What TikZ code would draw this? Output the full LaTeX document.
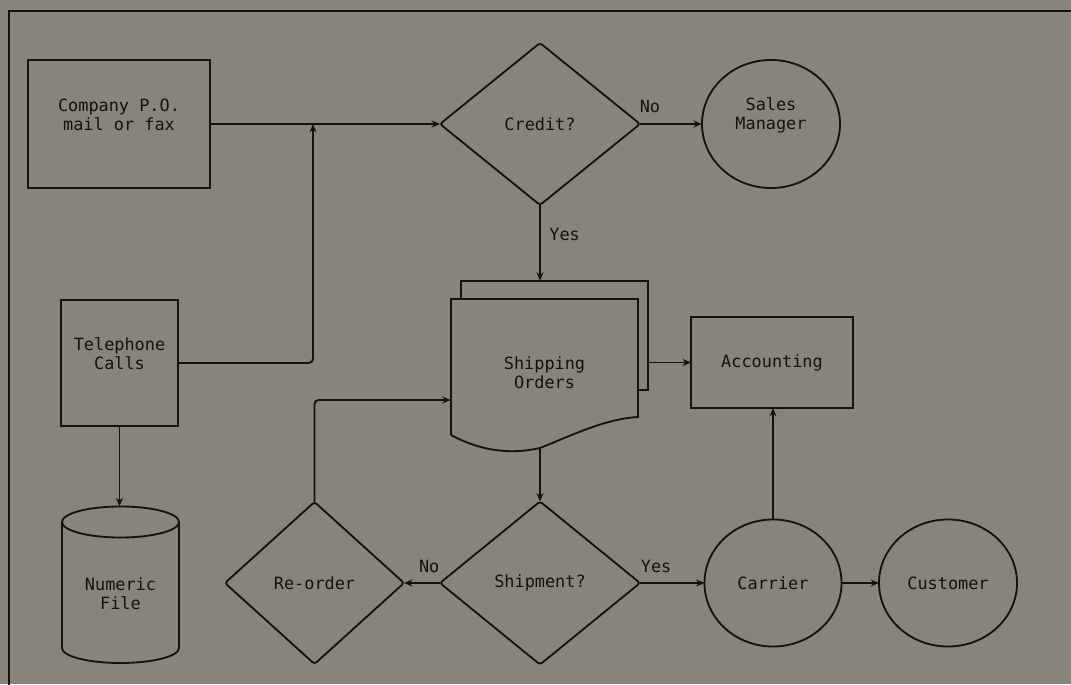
\documentclass[tikz,border=0pt]{standalone}
\usepackage{fontspec}
\setmonofont{DejaVu Sans Mono}
\usetikzlibrary{shapes.geometric,arrows.meta}
\definecolor{paper}{RGB}{137,132,121}
\definecolor{ink}{RGB}{20,18,16}
\begin{document}
\begin{tikzpicture}[x=0.025cm, y=0.025cm,
    every node/.style={font=\ttfamily\fontsize{12}{13.5}\selectfont, text=ink, align=center},
    line/.style={line width=1.3pt, draw=ink},
    arr/.style={line, -{Stealth[length=6pt, width=5pt]}},
    box/.style={line, rectangle, inner sep=0pt, outer sep=0pt},
    choice/.style={line, diamond, inner sep=0pt, outer sep=0pt, rounded corners=2pt},
    bubble/.style={line, ellipse, inner sep=0pt, outer sep=0pt},
    lift/.style={yshift=0.225cm},
    tag/.style={inner sep=1pt}]
    % Paper and frame
    \useasboundingbox[fill=paper] (0,0) rectangle (1071,684);
    \draw[line] (9,-10) -- (9,673) -- (1080,673);

    % Inputs
    \node[box, minimum width=4.55cm, minimum height=3.2cm,
        label={[lift]center:{Company P.O.\\mail or fax}}] (po) at (119,560) {};
    \node[box, minimum width=2.925cm, minimum height=3.15cm,
        label={[lift]center:{Telephone\\Calls}}] (tel) at (119.5,321) {};

    % Numeric file (cylinder)
    \draw[line] (62,162) arc[start angle=180, end angle=0, x radius=58.5, y radius=15.5]
        -- (179,36) arc[start angle=0, end angle=-180, x radius=58.5, y radius=15] -- cycle;
    \draw[line] (62,162) arc[start angle=180, end angle=360, x radius=58.5, y radius=15.5];
    \node[minimum width=2.925cm, minimum height=4.375cm, inner sep=0pt] (file) at (120.5,90) {Numeric\\File};

    % Decisions
    \node[choice, minimum width=5cm, minimum height=4.05cm] (credit) at (540,560) {Credit?};
    \node[choice, minimum width=5cm, minimum height=4.075cm] (shipq) at (540,101) {Shipment?};
    \node[choice, minimum width=4.475cm, minimum height=4.05cm] (reorder) at (314.5,101) {Re-order};

    % Shipping orders (document stack)
    \draw[line] (461,385) -- (461,403) -- (648,403) -- (648,294) -- (638,294);
    \draw[line] (451,249) -- (451,385) -- (638,385) -- (638,267)
        .. controls (605,265) and (575,250) .. (540,236) coordinate (wave)
        .. controls (505,228) and (475,236) .. (451,249);
    \node[minimum width=4.675cm, minimum height=3.4cm, inner sep=0pt] (orders) at (544.5,311) {Shipping\\Orders};
    \node[minimum width=4.675cm, minimum height=2.725cm, inner sep=0pt] (back) at (554.5,348.5) {};

    % Outputs
    \node[bubble, minimum width=3.45cm, minimum height=3.2cm,
        label={[lift]center:{Sales\\Manager}}] (sales) at (771,560) {};
    \node[box, minimum width=4.05cm, minimum height=2.275cm] (acc) at (772,321.5) {Accounting};
    \node[bubble, minimum width=3.425cm, minimum height=3.175cm] (carrier) at (773,101) {Carrier};
    \node[bubble, minimum width=3.45cm, minimum height=3.175cm] (cust) at (948,101) {Customer};

    % Flow
    \coordinate (join) at (313,560);
    \draw[arr] (po.east) -- (credit.west);
    \draw[arr, rounded corners=3pt] (tel.east) -| (join);
    \draw[arr] (tel.south) -- (tel.south |- file.north);
    \draw[arr] (credit.east) -- node[tag, above=6pt, pos=0.16] {No} (sales.west);
    \draw[arr] (credit.south) -- node[tag, right=5pt, pos=0.39] {Yes} (credit.south |- back.north);
    \draw[arr] (back.east |- acc.west) -- (acc.west);
    \draw[arr] (wave) -- (shipq.north);
    \draw[arr] (shipq.west) -- node[tag, above=6pt, pos=0.3] {No} (reorder.east);
    \draw[arr, rounded corners=3pt] (reorder.north) |- ([yshift=-0.675cm]orders.west);
    \draw[arr] (shipq.east) -- node[tag, above=6pt, pos=0.25] {Yes} (carrier.west);
    \draw[arr] (carrier.north) -- (carrier.north |- acc.south);
    \draw[arr] (carrier.east) -- (cust.west);
\end{tikzpicture}
\end{document}
